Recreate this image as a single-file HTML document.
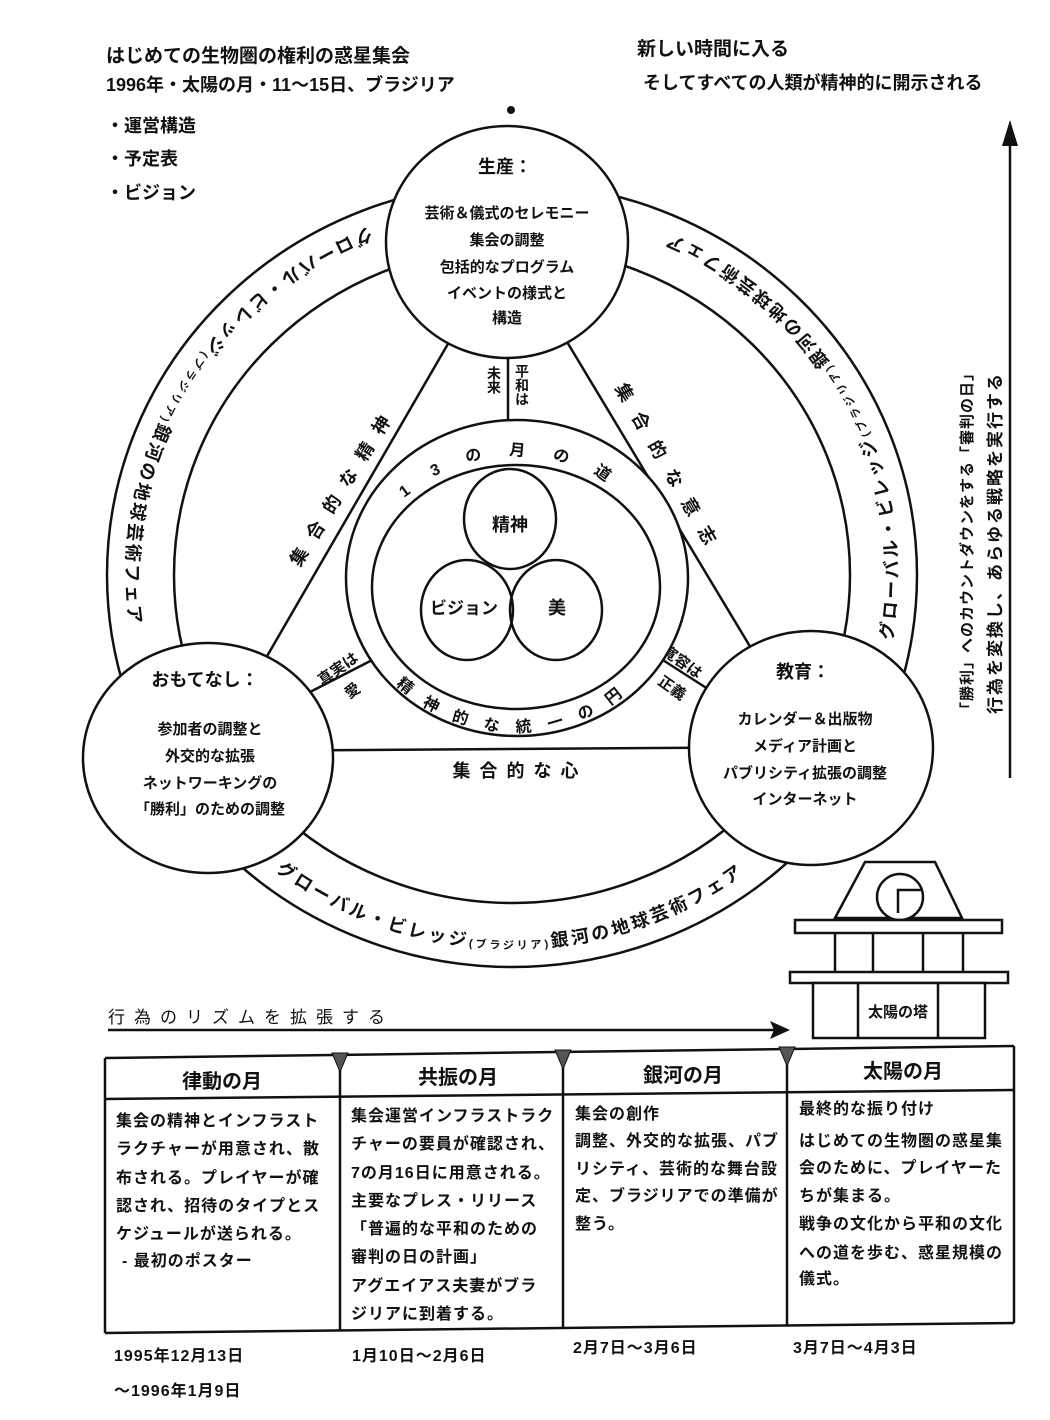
<!DOCTYPE html>
<html><head><meta charset="utf-8">
<style>
html,body{margin:0;padding:0;background:#fff;}
svg{display:block;}
text{font-family:"Liberation Sans","Noto Sans CJK JP",sans-serif;fill:#111;}
.b{font-weight:bold;}
</style></head>
<body>
<svg width="1050" height="1420" viewBox="0 0 1050 1420" xmlns="http://www.w3.org/2000/svg">
<rect width="1050" height="1420" fill="#fff"/>
<defs>
<path id="ring" d="M 512 201 A 386 374 0 0 0 512 949 A 386 374 0 0 0 512 201"/>
<path id="r13t" d="M 367 584 A 149 128 0 0 1 665 584"/>
<path id="r13b" d="M 352 582 A 164 150 0 0 0 680 582"/>
</defs>

<text x="106" y="62" font-size="19" class="b">はじめての生物圏の権利の惑星集会</text>
<text x="106" y="91" font-size="18" class="b">1996年・太陽の月・11～15日、ブラジリア</text>
<text x="106" y="132" font-size="18" class="b">・運営構造</text>
<text x="106" y="165" font-size="18" class="b">・予定表</text>
<text x="106" y="199" font-size="18" class="b">・ビジョン</text>
<text x="637" y="55" font-size="19" class="b">新しい時間に入る</text>
<text x="643" y="89" font-size="18" class="b">そしてすべての人類が精神的に開示される</text>
<circle cx="511" cy="110" r="4" fill="#111"/>

<line x1="1010" y1="140" x2="1010" y2="778" stroke="#111" stroke-width="2.5"/>
<polygon points="1010,120 1002,146 1018,146" fill="#111"/>
<text x="972" y="541" font-size="15" class="b" text-anchor="middle" letter-spacing="1" transform="rotate(-90 972 541)">「勝利」へのカウントダウンをする「審判の日」</text>
<text x="1001" y="543" font-size="17" class="b" text-anchor="middle" letter-spacing="2" transform="rotate(-90 1001 543)">行為を変換し、あらゆる戦略を実行する</text>

<ellipse cx="512" cy="575" rx="405" ry="392" fill="none" stroke="#111" stroke-width="2.5"/>
<ellipse cx="512" cy="575" rx="338" ry="328" fill="none" stroke="#111" stroke-width="2.5"/>

<text font-size="18" class="b" letter-spacing="3"><textPath href="#ring" startOffset="146">グローバル・ビレッジ<tspan font-size="11">(ブラジリア)</tspan>銀河の地球芸術フェア</textPath></text>
<text font-size="18" class="b" letter-spacing="3"><textPath href="#ring" startOffset="940">グローバル・ビレッジ<tspan font-size="11">(ブラジリア)</tspan>銀河の地球芸術フェア</textPath></text>
<text font-size="18" class="b" letter-spacing="3"><textPath href="#ring" startOffset="1724">グローバル・ビレッジ<tspan font-size="11">(ブラジリア)</tspan>銀河の地球芸術フェア</textPath></text>

<line x1="507" y1="242" x2="208" y2="758" stroke="#111" stroke-width="2.5"/>
<line x1="507" y1="242" x2="811" y2="748" stroke="#111" stroke-width="2.5"/>
<line x1="208" y1="751" x2="811" y2="747" stroke="#111" stroke-width="2.5"/>
<line x1="508" y1="300" x2="508" y2="430" stroke="#111" stroke-width="2.5"/>
<line x1="310" y1="692" x2="380" y2="656" stroke="#111" stroke-width="2.5"/>
<line x1="655" y1="655" x2="708" y2="689" stroke="#111" stroke-width="2.5"/>

<text x="343" y="492" font-size="18" class="b" text-anchor="middle" letter-spacing="13" transform="rotate(-58 343 485)">集合的な精神</text>
<text x="670" y="477" font-size="18" class="b" text-anchor="middle" letter-spacing="15" transform="rotate(60 670 470)">集合的な意志</text>
<text x="520" y="777" font-size="18" class="b" text-anchor="middle" letter-spacing="9">集合的な心</text>
<text x="494" y="366" font-size="14" class="b" style="writing-mode:vertical-rl" text-anchor="start">未来</text>
<text x="522" y="364" font-size="14" class="b" style="writing-mode:vertical-rl" text-anchor="start">平和は</text>
<text x="338" y="674" font-size="15" class="b" text-anchor="middle" transform="rotate(-35 338 669)">真実は</text>
<text x="352" y="696" font-size="15" class="b" text-anchor="middle" transform="rotate(-35 352 690)">愛</text>
<text x="682" y="667" font-size="15" class="b" text-anchor="middle" transform="rotate(35 682 662)">寛容は</text>
<text x="672" y="693" font-size="15" class="b" text-anchor="middle" transform="rotate(35 672 688)">正義</text>

<ellipse cx="517" cy="578" rx="171" ry="158" fill="#fff" stroke="#111" stroke-width="2.5"/>
<ellipse cx="516" cy="587" rx="144" ry="122" fill="#fff" stroke="#111" stroke-width="2.5"/>
<text font-size="16" class="b" letter-spacing="27" text-anchor="middle"><textPath href="#r13t" startOffset="50%">13の月の道</textPath></text>
<text font-size="16" class="b" letter-spacing="17" text-anchor="middle"><textPath href="#r13b" startOffset="50%">精神的な統一の円</textPath></text>

<ellipse cx="510" cy="519" rx="46" ry="50" fill="#fff" stroke="#111" stroke-width="2.5"/>
<ellipse cx="467" cy="610" rx="46" ry="50" fill="none" stroke="#111" stroke-width="2.5"/>
<ellipse cx="556" cy="610" rx="46" ry="50" fill="none" stroke="#111" stroke-width="2.5"/>
<text x="510" y="531" font-size="18" class="b" text-anchor="middle">精神</text>
<text x="464" y="614" font-size="17" class="b" text-anchor="middle">ビジョン</text>
<text x="557" y="614" font-size="18" class="b" text-anchor="middle">美</text>

<ellipse cx="507" cy="242" rx="121" ry="116" fill="#fff" stroke="#111" stroke-width="2.5"/>
<text x="505" y="173" font-size="18" class="b" text-anchor="middle">生産：</text>
<g font-size="15" class="b" text-anchor="middle">
<text x="507" y="218">芸術＆儀式のセレモニー</text>
<text x="507" y="245">集会の調整</text>
<text x="507" y="272">包括的なプログラム</text>
<text x="507" y="298">イベントの様式と</text>
<text x="507" y="323">構造</text>
</g>

<ellipse cx="208" cy="758" rx="125" ry="115" fill="#fff" stroke="#111" stroke-width="2.5"/>
<text x="205" y="686" font-size="18" class="b" text-anchor="middle">おもてなし：</text>
<g font-size="15" class="b" text-anchor="middle">
<text x="210" y="734">参加者の調整と</text>
<text x="210" y="761">外交的な拡張</text>
<text x="210" y="788">ネットワーキングの</text>
<text x="210" y="814">「勝利」のための調整</text>
</g>

<ellipse cx="811" cy="748" rx="122" ry="117" fill="#fff" stroke="#111" stroke-width="2.5"/>
<text x="803" y="678" font-size="18" class="b" text-anchor="middle">教育：</text>
<g font-size="15" class="b" text-anchor="middle">
<text x="805" y="724">カレンダー＆出版物</text>
<text x="805" y="751">メディア計画と</text>
<text x="805" y="778">パブリシティ拡張の調整</text>
<text x="805" y="804">インターネット</text>
</g>

<g stroke="#111" stroke-width="2.5" fill="#fff">
<polygon points="835,918 865,862 935,862 962,918"/>
<circle cx="900" cy="897" r="23"/>
<polyline points="898,913 898,890 921,890" fill="none"/>
<rect x="795" y="920" width="207" height="13"/>
<line x1="835" y1="933" x2="835" y2="972"/>
<line x1="873" y1="933" x2="873" y2="972"/>
<line x1="923" y1="933" x2="923" y2="972"/>
<line x1="963" y1="933" x2="963" y2="972"/>
<rect x="790" y="972" width="218" height="11"/>
<rect x="813" y="983" width="172" height="55"/>
<line x1="858" y1="983" x2="858" y2="1038"/>
<line x1="938" y1="983" x2="938" y2="1038"/>
</g>
<text x="898" y="1017" font-size="15" class="b" text-anchor="middle">太陽の塔</text>

<text x="108" y="1023" font-size="17" letter-spacing="9">行為のリズムを拡張する</text>
<line x1="108" y1="1030" x2="775" y2="1030" stroke="#111" stroke-width="2.5"/>
<polygon points="790,1030 770,1021 774,1030 770,1039" fill="#111"/>

<g stroke="#111" stroke-width="2.5" fill="none">
<line x1="105" y1="1058" x2="1014" y2="1046"/>
<line x1="105" y1="1099" x2="1014" y2="1090"/>
<line x1="105" y1="1333" x2="1014" y2="1323"/>
<line x1="105" y1="1058" x2="105" y2="1333"/>
<line x1="1014" y1="1046" x2="1014" y2="1323"/>
<line x1="340" y1="1055" x2="340" y2="1330"/>
<line x1="563" y1="1052" x2="563" y2="1328"/>
<line x1="787" y1="1049" x2="787" y2="1325"/>
</g>
<g fill="#555" stroke="#111" stroke-width="1">
<polygon points="332,1053 348,1053 340,1072"/>
<polygon points="555,1050 571,1050 563,1069"/>
<polygon points="779,1047 795,1047 787,1066"/>
</g>
<g font-size="20" class="b" text-anchor="middle">
<text x="222" y="1088">律動の月</text>
<text x="458" y="1084">共振の月</text>
<text x="683" y="1082">銀河の月</text>
<text x="903" y="1078">太陽の月</text>
</g>
<g font-size="16" class="b" letter-spacing="1">
<text x="116" y="1126">集会の精神とインフラスト</text>
<text x="116" y="1154">ラクチャーが用意され、散</text>
<text x="116" y="1183">布される。プレイヤーが確</text>
<text x="116" y="1211">認され、招待のタイプとス</text>
<text x="116" y="1239">ケジュールが送られる。</text>
<text x="122" y="1266">- 最初のポスター</text>

<text x="351" y="1121">集会運営インフラストラク</text>
<text x="351" y="1149">チャーの要員が確認され、</text>
<text x="351" y="1178">7の月16日に用意される。</text>
<text x="351" y="1206">主要なプレス・リリース</text>
<text x="351" y="1234">「普遍的な平和のための</text>
<text x="351" y="1262">審判の日の計画」</text>
<text x="351" y="1291">アグエイアス夫妻がブラ</text>
<text x="351" y="1319">ジリアに到着する。</text>

<text x="575" y="1119">集会の創作</text>
<text x="575" y="1146">調整、外交的な拡張、パブ</text>
<text x="575" y="1174">リシティ、芸術的な舞台設</text>
<text x="575" y="1201">定、ブラジリアでの準備が</text>
<text x="575" y="1229">整う。</text>

<text x="799" y="1114">最終的な振り付け</text>
<text x="799" y="1146">はじめての生物圏の惑星集</text>
<text x="799" y="1173">会のために、プレイヤーた</text>
<text x="799" y="1201">ちが集まる。</text>
<text x="799" y="1229">戦争の文化から平和の文化</text>
<text x="799" y="1258">への道を歩む、惑星規模の</text>
<text x="799" y="1284">儀式。</text>
</g>
<g font-size="16" class="b" letter-spacing="1">
<text x="114" y="1361">1995年12月13日</text>
<text x="114" y="1396">～1996年1月9日</text>
<text x="352" y="1361">1月10日～2月6日</text>
<text x="573" y="1353">2月7日～3月6日</text>
<text x="793" y="1353">3月7日～4月3日</text>
</g>
</svg>
</body></html>
